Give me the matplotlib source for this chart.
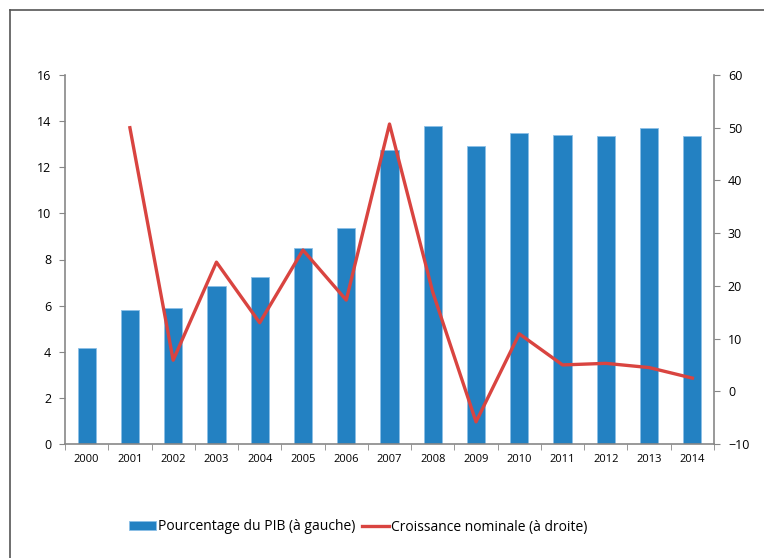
import numpy as np
import matplotlib.pyplot as plt
from matplotlib.lines import Line2D

plt.rcParams['font.family'] = ['Open Sans', 'DejaVu Sans']

years = ['2000', '2001', '2002', '2003', '2004', '2005', '2006', '2007',
         '2008', '2009', '2010', '2011', '2012', '2013', '2014']
pct_pib = [4.15, 5.8, 5.9, 6.85, 7.25, 8.5, 9.35, 12.75,
           13.8, 12.9, 13.5, 13.4, 13.35, 13.7, 13.35]
# growth starts in 2001
growth_years = years[1:]
croissance = [50.0, 5.9, 24.5, 13.0, 26.8, 17.3, 50.7,
              18.8, -5.8, 10.9, 5.0, 5.3, 4.5, 2.5]

blue = '#2381c2'
red = '#d94440'
grey = '#878787'

fig = plt.figure(figsize=(7.64, 5.58), dpi=100)
ax = fig.add_axes([65/764, 114/558, 649/764, 369/558])
ax2 = ax.twinx()

x = np.arange(len(years))
bars = ax.bar(x, pct_pib, width=0.42, color=blue, edgecolor='#8cc0e6',
              linewidth=0.6, label='Pourcentage du PIB (à gauche)', zorder=2)
gx = np.array([years.index(y) for y in growth_years])
line, = ax2.plot(gx, croissance, color=red, lw=2.4,
                 label='Croissance nominale (à droite)', zorder=3)

ax.set_xlim(-0.5, len(years) - 0.5)
ax.set_ylim(0, 16)
ax.set_yticks(range(0, 17, 2))
ax2.set_ylim(-10, 60)
ax2.set_yticks(range(-10, 61, 10))

ax.set_xticks(x)
ax.set_xticklabels(years)
ax.set_xticks(np.arange(-0.5, len(years), 1), minor=True)
ax.tick_params(axis='x', which='major', length=0, pad=7, labelsize=8)
ax.tick_params(axis='x', which='minor', length=4, color=grey, direction='out')
ax.tick_params(axis='y', length=4, color=grey, direction='out', labelsize=9, pad=6)
ax2.tick_params(axis='y', length=4, color=grey, direction='out', labelsize=9, pad=6)

for a in (ax, ax2):
    a.spines['top'].set_visible(False)
    for s in ('left', 'right', 'bottom'):
        a.spines[s].set_color(grey)
        a.spines[s].set_linewidth(1.2)
ax.spines['right'].set_visible(False)
ax2.spines['left'].set_visible(False)
ax2.spines['bottom'].set_visible(False)

ax.set_zorder(ax2.get_zorder() - 1)
ax2.patch.set_visible(False)

fig.legend(handles=[bars, line], loc='center', bbox_to_anchor=(0.469, 1 - 527/558),
           ncol=2, frameon=False, fontsize=10, handlelength=1.9,
           handleheight=0.6, handletextpad=0.15, columnspacing=0.5)

# outer frame (top and left only)
fig.add_artist(Line2D([10/764, 10/764], [0, 1 - 10/558], color='#555555', lw=1.2,
                      transform=fig.transFigure))
fig.add_artist(Line2D([10/764, 1], [1 - 10/558, 1 - 10/558], color='#555555', lw=1.2,
                      transform=fig.transFigure))

fig.savefig('out.png', dpi=100)
